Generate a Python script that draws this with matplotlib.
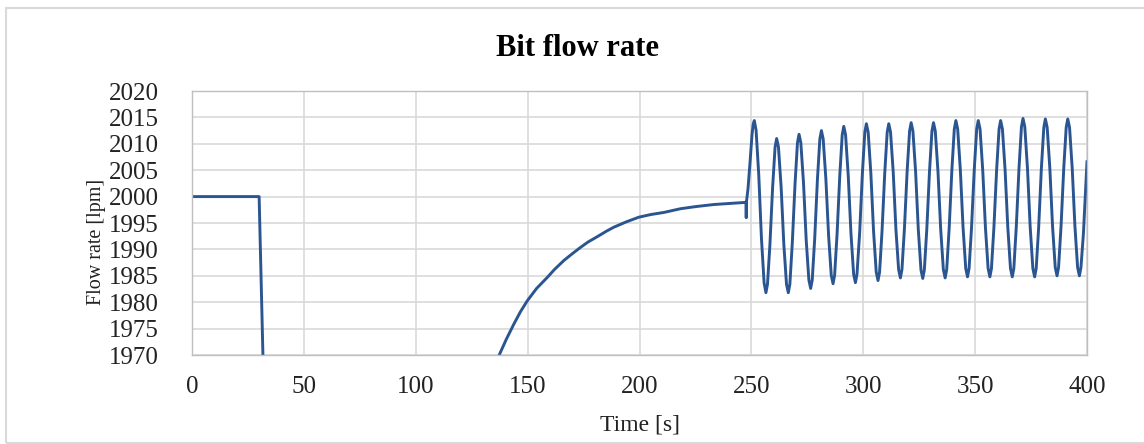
import matplotlib
matplotlib.use("Agg")
import matplotlib.pyplot as plt
from matplotlib.patches import Rectangle

plt.rcParams["font.family"] = ["Liberation Serif", "DejaVu Serif"]

# valeurs (temps en s, debit en lpm)
# palier puis chute (la courbe passe sous l'axe jusqu'a ~137 s)
t_start = [0, 30, 31.7, 33, 134]
q_start = [2000, 2000, 1970, 1950, 1950]

# remontee vers 1999 lpm, petit creux a 247.7 s
t_recov = [137.2, 140.5, 143.9, 146.8, 149.9, 154.0, 158.8, 162.0, 166.2,
           170.0, 173.7, 177.0, 181.1, 185.0, 188.5, 194.0, 199.7, 205.0,
           210.9, 218.3, 225.0, 233.2, 240.0, 247.3, 247.6, 247.7, 247.8]
q_recov = [1969.9, 1973.0, 1975.9, 1978.2, 1980.3, 1982.6, 1984.7, 1986.2,
           1987.9, 1989.2, 1990.4, 1991.4, 1992.4, 1993.4, 1994.2, 1995.2,
           1996.1, 1996.6, 1997.0, 1997.7, 1998.1, 1998.5, 1998.7, 1998.9,
           1999.0, 1996.0, 1999.0]

# oscillations : une ligne par periode (pic, descente, creux, montee)
t_osc = [248.5, 249.4, 250.3, 250.8,
         251.3, 252.1, 253.3, 254.5, 255.7, 256.5, 257.2, 258.3, 259.5, 260.6,
         261.3, 262.1, 263.3, 264.5, 265.7, 266.5, 267.2, 268.3, 269.5, 270.6,
         271.3, 272.1, 273.3, 274.5, 275.7, 276.5, 277.2, 278.3, 279.5, 280.6,
         281.3, 282.1, 283.3, 284.5, 285.7, 286.5, 287.2, 288.3, 289.5, 290.6,
         291.3, 292.1, 293.3, 294.5, 295.7, 296.5, 297.2, 298.4, 299.6, 300.7,
         301.4, 302.2, 303.4, 304.6, 305.8, 306.6, 307.3, 308.4, 309.6, 310.7,
         311.4, 312.2, 313.4, 314.6, 315.8, 316.6, 317.3, 318.4, 319.6, 320.7,
         321.4, 322.2, 323.4, 324.6, 325.8, 326.6, 327.3, 328.4, 329.6, 330.7,
         331.4, 332.2, 333.4, 334.6, 335.8, 336.6, 337.3, 338.4, 339.6, 340.7,
         341.4, 342.2, 343.4, 344.6, 345.8, 346.6, 347.3, 348.4, 349.6, 350.7,
         351.4, 352.2, 353.4, 354.6, 355.8, 356.6, 357.3, 358.4, 359.6, 360.7,
         361.4, 362.2, 363.4, 364.6, 365.8, 366.6, 367.3, 368.4, 369.6, 370.7,
         371.4, 372.2, 373.4, 374.6, 375.8, 376.6, 377.3, 378.4, 379.6, 380.7,
         381.4, 382.2, 383.4, 384.6, 385.8, 386.6, 387.3, 388.4, 389.6, 390.7,
         391.4, 392.2, 393.4, 394.6, 395.8, 396.6, 397.3, 398.4, 399.3, 400.0]
q_osc = [2001.5, 2006.5, 2011.8, 2013.7,
         2014.4, 2012.6, 2004.1, 1992.1, 1983.6, 1981.8, 1983.4, 1991.0, 2001.8, 2009.4,
         2011.0, 2009.4, 2001.8, 1991.0, 1983.4, 1981.8, 1983.4, 1991.3, 2002.3, 2010.2,
         2011.8, 2010.2, 2002.6, 1991.8, 1984.2, 1982.6, 1984.2, 1992.0, 2003.1, 2010.9,
         2012.5, 2010.9, 2003.3, 1992.7, 1985.1, 1983.5, 1985.1, 1992.9, 2003.9, 2011.7,
         2013.3, 2011.7, 2003.9, 1993.1, 1985.3, 1983.7, 1985.3, 1993.2, 2004.3, 2012.2,
         2013.8, 2012.2, 2004.4, 1993.5, 1985.7, 1984.1, 1985.7, 1993.5, 2004.4, 2012.2,
         2013.8, 2012.2, 2004.6, 1993.8, 1986.2, 1984.6, 1986.2, 1993.9, 2004.7, 2012.4,
         2014.0, 2012.4, 2004.7, 1993.8, 1986.1, 1984.5, 1986.1, 1993.8, 2004.7, 2012.4,
         2014.0, 2012.4, 2004.7, 1993.9, 1986.2, 1984.6, 1986.2, 1994.0, 2005.0, 2012.8,
         2014.4, 2012.8, 2005.0, 1994.2, 1986.4, 1984.8, 1986.4, 1994.2, 2005.0, 2012.8,
         2014.4, 2012.8, 2005.0, 1994.2, 1986.4, 1984.8, 1986.4, 1994.2, 2005.0, 2012.8,
         2014.4, 2012.8, 2005.0, 1994.2, 1986.4, 1984.8, 1986.4, 1994.3, 2005.3, 2013.2,
         2014.8, 2013.2, 2005.3, 1994.3, 1986.4, 1984.8, 1986.4, 1994.2, 2005.3, 2013.1,
         2014.7, 2013.1, 2005.3, 1994.4, 1986.6, 1985.0, 1986.6, 1994.4, 2005.3, 2013.1,
         2014.7, 2013.1, 2005.3, 1994.4, 1986.6, 1985.0, 1986.6, 1993.0, 2000.5, 2006.6]

t = t_start + t_recov + t_osc
q = q_start + q_recov + q_osc

x_ticks = [0, 50, 100, 150, 200, 250, 300, 350, 400]
y_ticks = [1970, 1975, 1980, 1985, 1990, 1995, 2000, 2005, 2010, 2015, 2020]

fig = plt.figure(figsize=(11.44, 4.44), dpi=100)
ax = fig.add_axes([192 / 1144, 1 - 355 / 444, (1087 - 192) / 1144, (355 - 91) / 444])

ax.plot(t, q, color="#2A5590", linewidth=2.1)

ax.set_xlim(0, 400)
ax.set_ylim(1970, 2020)
ax.set_xticks(x_ticks)
ax.set_yticks(y_ticks)
ax.tick_params(length=0, labelsize=18, colors="#222222")
ax.tick_params(axis="y", pad=24)
ax.tick_params(axis="x", pad=15)
ax.grid(True, color="#D9D9D9", linewidth=1.2)
ax.set_axisbelow(True)
for s in ax.spines.values():
    s.set_color("#BFBFBF")
    s.set_linewidth(1.0)

fig.text(578 / 1144, 1 - 48 / 444, "Bit flow rate", ha="center", va="center",
         fontsize=22, fontweight="bold")
fig.text(96 / 1144, 1 - 242 / 444, "Flow rate [lpm]", ha="center", va="center",
         rotation=90, fontsize=14.5, color="#222222")
fig.text(640 / 1144, 1 - 425 / 444, "Time [s]", ha="center", va="center",
         fontsize=17, color="#222222")

# cadre du graphique
fig.patches.append(Rectangle((6 / 1144, 1 / 444), 1.2, 1 - 9 / 444,
                             transform=fig.transFigure, fill=False,
                             edgecolor="#D9D9D9", linewidth=1.5))

fig.savefig("out.png", dpi=100)
